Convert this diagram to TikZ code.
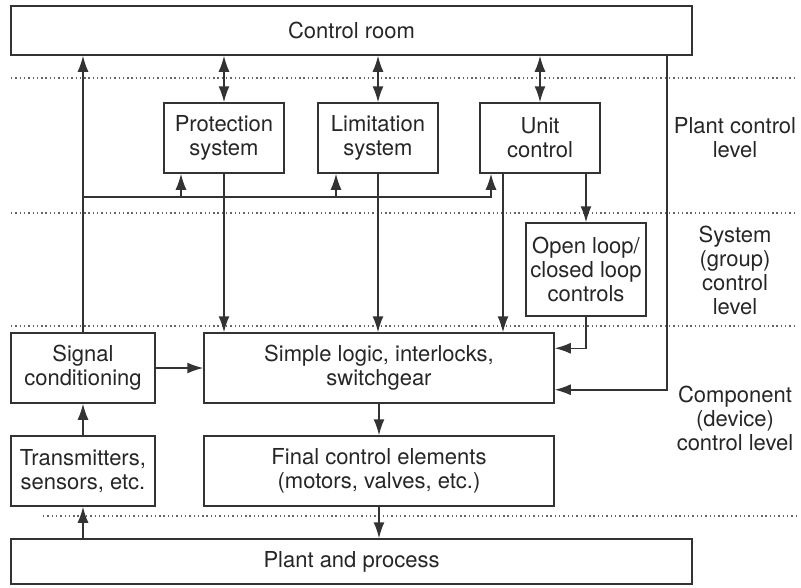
\documentclass[tikz,border=0pt]{standalone}
\usepackage{fontspec}
\setmainfont{TeX Gyre Heros}
\usetikzlibrary{positioning, arrows.meta}
\tikzset{
    every picture/.style={x=1pt, y=-1pt},
    linea/.style={line width=1.5pt, draw=black!80},
    flecha/.style={linea, -{Latex[length=16pt, width=11pt]}},
    dobleflecha/.style={linea, {Latex[length=16pt, width=11pt]}-{Latex[length=16pt, width=11pt]}},
    bloque/.style={rectangle, draw=black!80, line width=1.5pt, fill=white,
        inner sep=0pt, align=center, text=black!85,
        font=\fontsize{22}{24}\selectfont},
    nivel/.style={align=center, text=black!85, font=\fontsize{22}{24}\selectfont},
    divisor/.style={line width=1.2pt, draw=black!60, dash pattern=on 1.4pt off 2.9pt}}

\begin{document}
\begin{tikzpicture}
    \useasboundingbox (0,0) rectangle (801,587);

    % level separators
    \coordinate (d1a) at (11,78);  \coordinate (d1b) at (797,78);
    \coordinate (d2a) at (11,213); \coordinate (d2b) at (797,213);
    \coordinate (d3a) at (11,326); \coordinate (d3b) at (797,326);
    \coordinate (d4a) at (43,516); \coordinate (d4b) at (797,516);
    \draw[divisor] (d1a) -- (d1b);
    \draw[divisor] (d2a) -- (d2b);
    \draw[divisor] (d3a) -- (d3b);
    \draw[divisor] (d4a) -- (d4b);

    % blocks
    \node (room) [bloque, minimum width=681, minimum height=49] at (351.5,30.5) {Control room};
    \node (prot) [bloque, minimum width=120, minimum height=70] at (224,138) {Protection\\system};
    \node (limit) [bloque, minimum width=120, minimum height=70] at (378,138) {Limitation\\system};
    \node (unit) [bloque, minimum width=120, minimum height=70] at (540,138) {Unit\\control};
    \node (open) [bloque, minimum width=120, minimum height=93] at (586,269.5) {Open loop/\\closed loop\\controls};
    \node (signal) [bloque, minimum width=144, minimum height=70] at (83,368) {Signal\\conditioning};
    \node (logic) [bloque, minimum width=350, minimum height=70] at (379,368) {Simple logic, interlocks,\\switchgear};
    \node (trans) [bloque, minimum width=144, minimum height=70] at (83,471) {Transmitters,\\sensors, etc.};
    \node (final) [bloque, minimum width=350, minimum height=70] at (379,471) {Final control elements\\(motors, valves, etc.)};
    \node (plant) [bloque, minimum width=681, minimum height=45] at (351.5,561.5) {Plant and process};

    % level names
    \node (lplant) [nivel] at (735,138) {Plant control\\level};
    \node (lsys) [nivel] at (735,270) {System\\(group)\\control\\level};
    \node (lcomp) [nivel] at (735,418) {Component\\(device)\\control level};

    % plant level connections
    \draw[dobleflecha] (room.south -| prot) -- (prot.north);
    \draw[dobleflecha] (room.south -| limit) -- (limit.north);
    \draw[dobleflecha] (room.south -| unit) -- (unit.north);
    \draw[flecha] (signal.north) -- (signal |- room.south);

    \coordinate (bus) at (83,197);
    \coordinate (bprot) at (181,197);
    \coordinate (blimit) at (336,197);
    \draw[flecha] (bus) -| ([xshift=-49pt]unit.south);
    \draw[flecha] (bprot) -- (bprot |- prot.south);
    \draw[flecha] (blimit) -- (blimit |- limit.south);

    % down to the component level
    \draw[flecha] (prot.south) -- (prot.south |- logic.north);
    \draw[flecha] (limit.south) -- (limit.south |- logic.north);
    \draw[flecha] ([xshift=-37pt]unit.south) -- ([xshift=-37pt]unit.south |- logic.north);
    \draw[flecha] ([xshift=46pt]unit.south) -- (open.north);
    \draw[flecha] (open.south) |- ([yshift=-16pt]logic.north east);

    \coordinate (rtop) at (667,55);
    \draw[flecha] (rtop) |- ([yshift=14pt]logic.south east);

    % component level
    \draw[flecha] (signal.east) -- (logic.west);
    \draw[flecha] (trans.north) -- (signal.south);
    \draw[flecha] (logic.south) -- (final.north);
    \draw[flecha] (final.south) -- (final.south |- plant.north);
    \draw[flecha] (plant.north -| trans.south) -- (trans.south);
\end{tikzpicture}
\end{document}
